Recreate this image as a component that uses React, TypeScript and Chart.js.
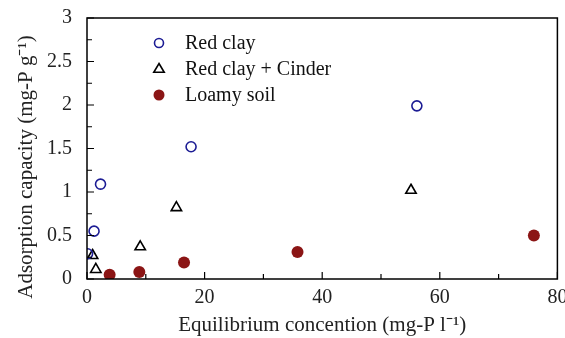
import React, { useEffect, useRef } from "react";
import { Chart, registerables } from "chart.js";

Chart.register(...registerables);

const redClayX = [0.1, 1.2, 2.3, 17.7, 56.1];
const redClayY = [0.29, 0.55, 1.09, 1.52, 1.99];
const cinderX = [0.95, 1.5, 9.05, 15.2, 55.1];
const cinderY = [0.27, 0.11, 0.37, 0.82, 1.02];
const loamyX = [3.85, 8.9, 16.5, 35.8, 76.0];
const loamyY = [0.05, 0.08, 0.19, 0.31, 0.5];
const seriesNames = ["Red clay", "Red clay + Cinder", "Loamy soil"];
const xTitle = "Equilibrium concention (mg-P l\u207B\u00B9)";
const yTitle = "Adsorption capacity (mg-P g\u207B\u00B9)";

const BLUE = "#1c1c94";
const DARKRED = "#8b1515";
const FONT = "'Liberation Serif', 'Times New Roman', serif";

function pts(xs: number[], ys: number[]) {
  return xs.map((x, i) => ({ x, y: ys[i] }));
}

const framePlugin = {
  id: "frame",
  afterDraw(chart: any) {
    const { ctx, chartArea: a, scales } = chart;
    ctx.save();
    ctx.strokeStyle = "#000";
    ctx.lineWidth = 1.5;
    ctx.strokeRect(a.left, a.top, a.right - a.left, a.bottom - a.top);
    const xs = scales.x, ys = scales.y;
    ctx.lineWidth = 1.2;
    ctx.beginPath();
    for (let v = 0; v <= 80; v += 10) {
      const px = xs.getPixelForValue(v);
      const len = v % 20 === 0 ? 7 : 5;
      ctx.moveTo(px, a.bottom);
      ctx.lineTo(px, a.bottom - len);
    }
    for (let v = 0; v <= 3.0001; v += 0.25) {
      const py = ys.getPixelForValue(v);
      const len = Math.abs(v * 2 - Math.round(v * 2)) < 1e-6 ? 7 : 5;
      ctx.moveTo(a.left, py);
      ctx.lineTo(a.left + len, py);
    }
    ctx.stroke();

    // y-axis title (drawn here so it can sit slightly below the plot's centre, as in the reference)
    ctx.save();
    ctx.translate(26.6, 167);
    ctx.rotate(-Math.PI / 2);
    ctx.font = `21px ${FONT}`;
    ctx.fillStyle = "#222";
    ctx.textAlign = "center";
    ctx.textBaseline = "middle";
    ctx.fillText(yTitle, 0, 0);
    ctx.restore();

    // legend
    const mx = a.left + 72;
    const tx = a.left + 98;
    const rows = [a.top + 25, a.top + 51, a.top + 77];
    ctx.font = `20px ${FONT}`;
    ctx.textBaseline = "middle";
    ctx.textAlign = "left";
    ctx.strokeStyle = BLUE;
    ctx.lineWidth = 1.6;
    ctx.beginPath();
    ctx.arc(mx, rows[0], 4.5, 0, Math.PI * 2);
    ctx.stroke();
    ctx.strokeStyle = "#000";
    ctx.beginPath();
    const r = 5.5;
    ctx.moveTo(mx, rows[1] - r);
    ctx.lineTo(mx + r * 0.95, rows[1] + r * 0.6);
    ctx.lineTo(mx - r * 0.95, rows[1] + r * 0.6);
    ctx.closePath();
    ctx.stroke();
    ctx.fillStyle = DARKRED;
    ctx.beginPath();
    ctx.arc(mx, rows[2], 5.5, 0, Math.PI * 2);
    ctx.fill();
    ctx.fillStyle = "#111";
    seriesNames.forEach((n, i) => ctx.fillText(n, tx, rows[i] + 1));
    ctx.restore();
  },
};

export default function App() {
  const ref = useRef<HTMLCanvasElement | null>(null);
  useEffect(() => {
    document.body.style.margin = "0";
    const chart = new Chart(ref.current as HTMLCanvasElement, {
      type: "scatter",
      data: {
        datasets: [
          {
            label: seriesNames[0],
            data: pts(redClayX, redClayY),
            pointStyle: "circle",
            pointRadius: 5,
            borderColor: BLUE,
            backgroundColor: "rgba(0,0,0,0)",
            borderWidth: 1.6,
          },
          {
            label: seriesNames[1],
            data: pts(cinderX, cinderY),
            pointStyle: "triangle",
            pointRadius: 6,
            borderColor: "#000",
            backgroundColor: "rgba(0,0,0,0)",
            borderWidth: 1.6,
          },
          {
            label: seriesNames[2],
            data: pts(loamyX, loamyY),
            pointStyle: "circle",
            pointRadius: 6,
            borderColor: DARKRED,
            backgroundColor: DARKRED,
            borderWidth: 0,
          },
        ],
      },
      options: {
        animation: false,
        responsive: false,
        layout: { padding: { top: 18, right: 7, left: 0, bottom: 0 } },
        plugins: { legend: { display: false }, tooltip: { enabled: false } },
        scales: {
          x: {
            type: "linear",
            min: 0,
            max: 80,
            afterFit: (s: any) => {
              s.height = 59;
              s.paddingLeft = 0;
              s.paddingRight = 0;
            },
            ticks: {
              stepSize: 20,
              color: "#222",
              padding: 7,
              maxRotation: 0,
              font: { family: FONT, size: 20 },
            },
            grid: { display: false, drawTicks: false },
            border: { display: false },
            title: {
              display: true,
              text: xTitle,
              color: "#222",
              font: { family: FONT, size: 21 },
              padding: { top: 2, bottom: 0 },
            },
          },
          y: {
            type: "linear",
            min: 0,
            max: 3,
            afterFit: (s: any) => {
              s.width = 87;
              s.paddingTop = 0;
              s.paddingBottom = 0;
            },
            ticks: {
              stepSize: 0.5,
              color: "#222",
              padding: 15,
              font: { family: FONT, size: 20 },
              callback: (v: any) => String(Number(v)),
            },
            grid: { display: false, drawTicks: false },
            border: { display: false },
            title: { display: false },
          },
        },
      },
      plugins: [framePlugin],
    } as any);
    return () => chart.destroy();
  }, []);
  return (
    <div style={{ width: 565, height: 338 }}>
      <canvas ref={ref} width={565} height={338} />
    </div>
  );
}
